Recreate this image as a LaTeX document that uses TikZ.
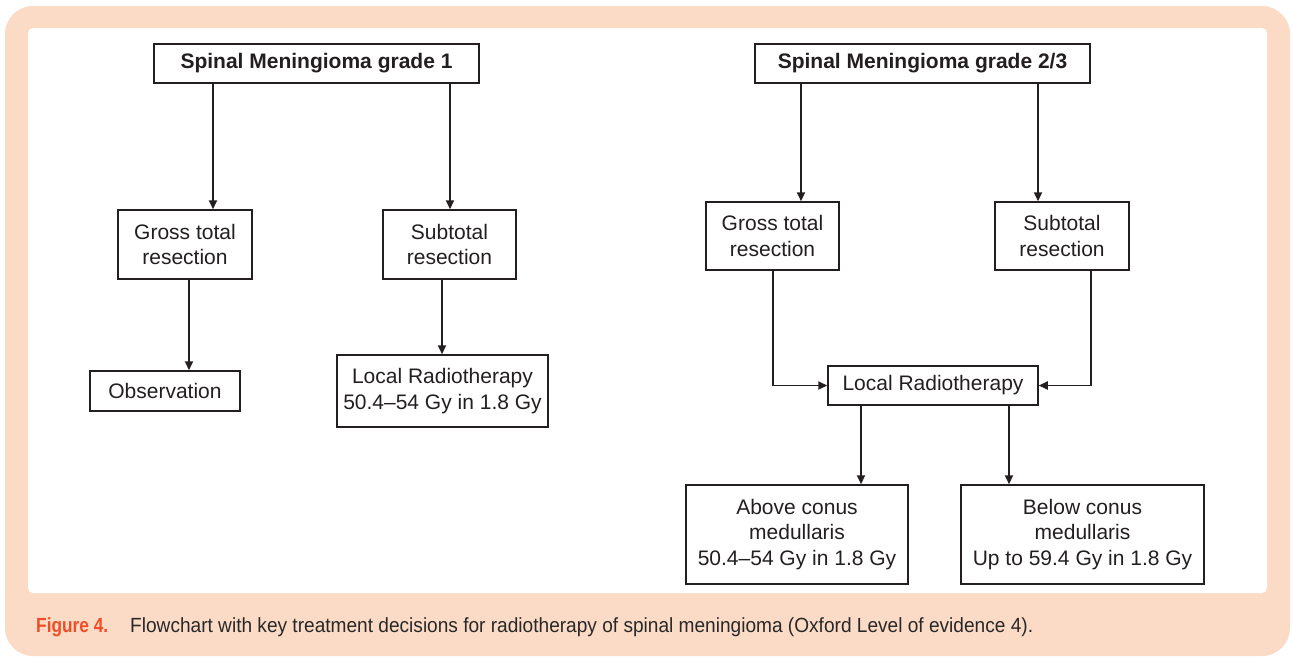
\documentclass[tikz,border=0pt]{standalone}
\usepackage{fontspec}
\setmainfont{Liberation Sans}
\usetikzlibrary{arrows.meta}
\definecolor{peach}{RGB}{252,219,198}
\definecolor{figred}{RGB}{238,78,40}
\definecolor{ink}{RGB}{35,31,32}
\definecolor{captext}{RGB}{40,40,40}
\begin{document}
\begin{tikzpicture}[x=1pt,y=-1pt,
  box/.style={draw=ink, line width=1.5pt, fill=white, text=ink,
    font=\fontsize{21}{25.5}\selectfont, align=center, inner sep=0pt},
  tbox/.style={box, font=\fontsize{21}{25.5}\selectfont\bfseries},
  arr/.style={draw=ink, line width=1.9pt, -{Triangle[length=9pt,width=8pt]}}]
\useasboundingbox (0,0) rectangle (1292,657);
\fill[peach, rounded corners=28pt] (5,6) rectangle (1290,656);
\fill[white, rounded corners=5pt] (28,28) rectangle (1267,593);

% nodes
\node[tbox, minimum width=325pt, minimum height=39pt] (g1) at (316.5,63.5) {Spinal Meningioma grade 1};
\node[tbox, minimum width=335pt, minimum height=39pt] (g23) at (922.5,63.5) {Spinal Meningioma grade 2/3};
\node[box, minimum width=134pt, minimum height=69pt] (gtr1) at (185,244.5) {Gross total\\resection};
\node[box, minimum width=133pt, minimum height=69pt] (str1) at (449.5,244.5) {Subtotal\\resection};
\node[box, minimum width=150pt, minimum height=40pt] (obs) at (165,391) {Observation};
\node[box, minimum width=211pt, minimum height=72pt] (lr1) at (442.5,391) {Local Radiotherapy\\50.4–54 Gy in 1.8 Gy};
\node[box, minimum width=133pt, minimum height=68pt] (gtr2) at (772.5,236) {Gross total\\resection};
\node[box, minimum width=134pt, minimum height=68pt] (str2) at (1062,236) {Subtotal\\resection};
\node[box, minimum width=210pt, minimum height=39pt] (lr2) at (933,385.5) {Local Radiotherapy};
\node[box, minimum width=222pt, minimum height=99pt] (above) at (797,534.5) {Above conus\\medullaris\\50.4–54 Gy in 1.8 Gy};
\node[box, minimum width=243pt, minimum height=99pt] (below) at (1082.5,534.5) {Below conus\\medullaris\\Up to 59.4 Gy in 1.8 Gy};

% connector x positions
\coordinate (xa) at (213,0);
\coordinate (xb) at (450,0);
\coordinate (xc) at (189,0);
\coordinate (xd) at (442,0);
\coordinate (xe) at (801,0);
\coordinate (xf) at (1038,0);
\coordinate (xg) at (773,0);
\coordinate (xh) at (1091,0);
\coordinate (xi) at (861,0);
\coordinate (xj) at (1009,0);

% connectors
\draw[arr] (g1.south -| xa) -- (gtr1.north -| xa);
\draw[arr] (g1.south -| xb) -- (str1.north -| xb);
\draw[arr] (gtr1.south -| xc) -- (obs.north -| xc);
\draw[arr] (str1.south -| xd) -- (lr1.north -| xd);
\draw[arr] (g23.south -| xe) -- (gtr2.north -| xe);
\draw[arr] (g23.south -| xf) -- (str2.north -| xf);
\draw[arr] (gtr2.south -| xg) |- (lr2.west);
\draw[arr] (str2.south -| xh) |- (lr2.east);
\draw[arr] (lr2.south -| xi) -- (above.north -| xi);
\draw[arr] (lr2.south -| xj) -- (below.north -| xj);

% caption
\node[anchor=base west, inner sep=0pt, text=figred] (figlab) at (36,632)
  {\resizebox{72pt}{\height}{\fontsize{20.5}{21}\selectfont\bfseries Figure 4.}};
\node[anchor=base west, inner sep=0pt, text=captext] (cap) at (130,632)
  {\resizebox{903pt}{\height}{\fontsize{20.5}{21}\selectfont Flowchart with key treatment decisions for radiotherapy of spinal meningioma (Oxford Level of evidence 4).}};
\end{tikzpicture}
\end{document}
